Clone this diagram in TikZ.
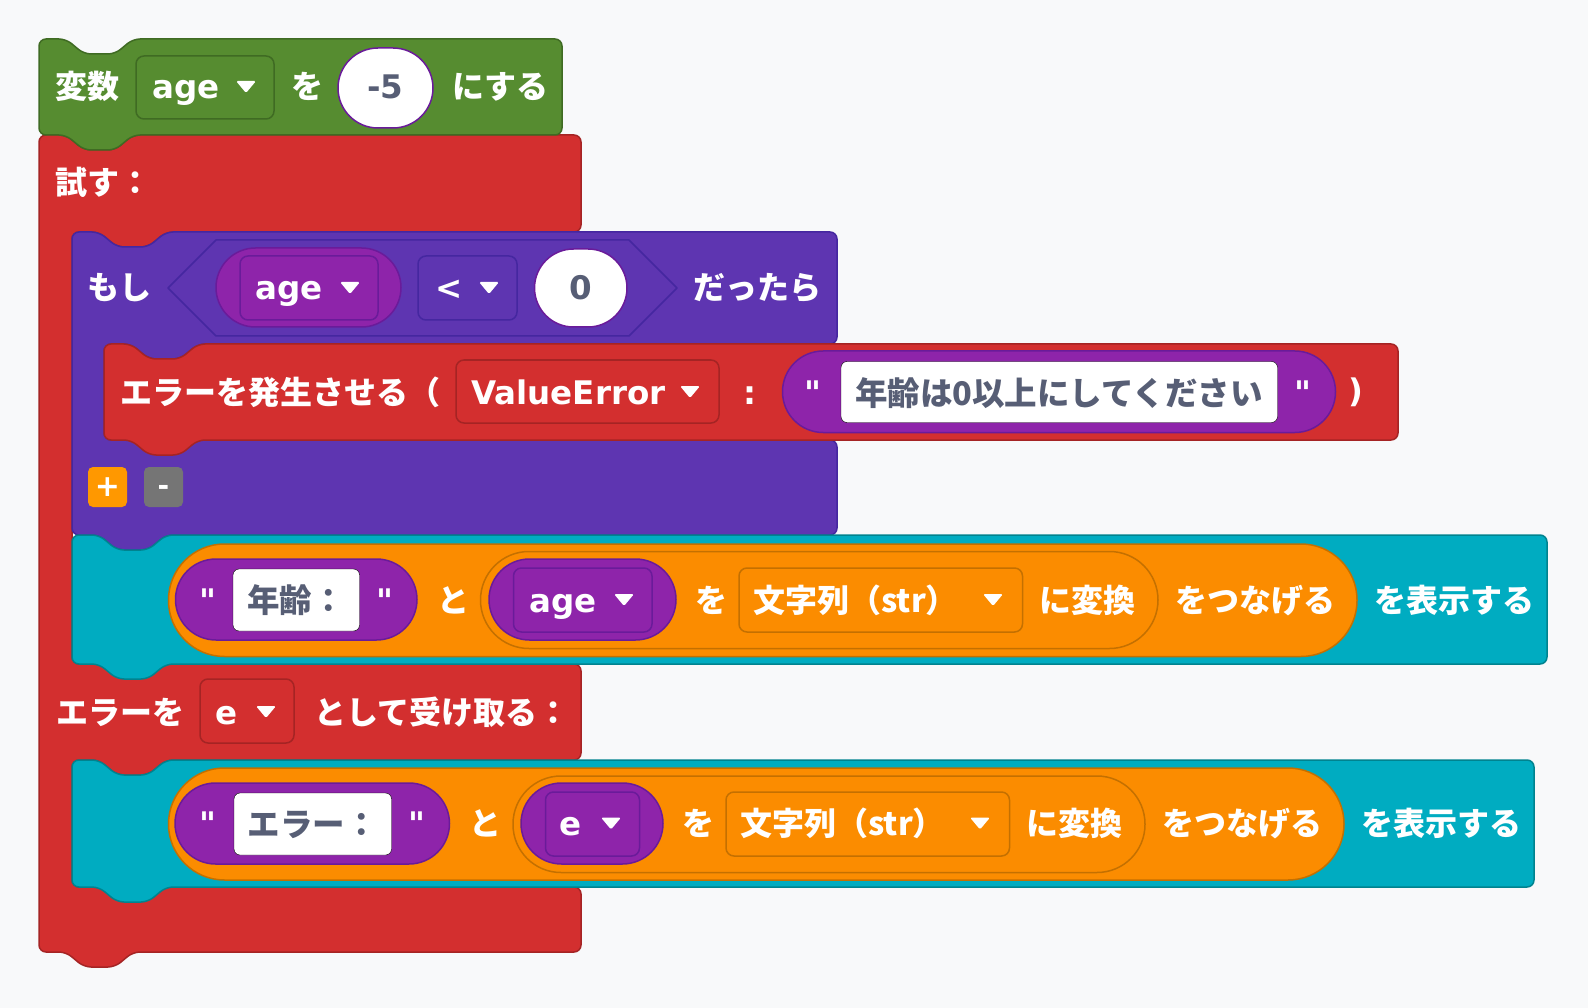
\documentclass[tikz,border=0pt]{standalone}
\usepackage{fontspec}
\setmainfont{DejaVu Sans}
\newfontfamily\lat{DejaVu Sans}
\newfontfamily\jp{Noto Sans CJK JP}
\definecolor{cBg}{HTML}{F8F9FA}
\definecolor{cGreen}{HTML}{568C30}
\definecolor{cGreenD}{HTML}{3F6B23}
\definecolor{cRed}{HTML}{D32F2F}
\definecolor{cRedD}{HTML}{A52424}
\definecolor{cPur}{HTML}{5E35B1}
\definecolor{cPurD}{HTML}{4527A0}
\definecolor{cMag}{HTML}{8E24AA}
\definecolor{cMagD}{HTML}{6A1B9A}
\definecolor{cTeal}{HTML}{00ACC1}
\definecolor{cTealD}{HTML}{00838F}
\definecolor{cOr}{HTML}{FB8C00}
\definecolor{cOrD}{HTML}{C47000}
\definecolor{cPlus}{HTML}{FF9800}
\definecolor{cMinus}{HTML}{757575}
\definecolor{cGray}{HTML}{575E75}
\newcommand\tri[2]{\fill[white,rounded corners=1.5pt] ({#1-10},{#2-6}) -- ({#1+10},{#2-6}) -- ({#1},{#2+6}) -- cycle;}
\begin{document}
\begin{tikzpicture}[x=1pt,y=-1pt,
  blk/.style={line width=1.5pt,rounded corners=7pt,line join=round},
  dd/.style={line width=1.5pt,rounded corners=8pt},
  pl/.style={line width=1.5pt},
  wf/.style={fill=white,rounded corners=6pt},
  jt/.style={anchor=base west,inner sep=0pt,text=white,font=\jp\bfseries\fontsize{32}{32}\selectfont},
  lt/.style={anchor=base west,inner sep=0pt,text=white,font=\lat\bfseries\fontsize{32.5}{33}\selectfont},
  lc/.style={anchor=base,inner sep=0pt,text=white,font=\lat\bfseries\fontsize{32.5}{33}\selectfont},
  fc/.style={anchor=base,inner sep=0pt,text=cGray,font=\jp\bfseries\fontsize{32.5}{33}\selectfont}]
\useasboundingbox (0,0) rectangle (1588,1008);
\fill[cBg] (0,0) rectangle (1588,1008);

% ---------- try block (red C) ----------
\draw[blk,fill=cRed,draw=cRedD] (39,500) -- (39,135) -- (66,135) -- (84,150) -- (115,150) -- (133,135) -- (581,135) -- (581,232)
  -- (166,232) -- (148,247) -- (117,247) -- (99,232) -- (72,232) -- (72,664) -- (581,664) -- (581,760)
  -- (166,760) -- (148,775) -- (117,775) -- (99,760) -- (72,760) -- (72,887) -- (581,887) -- (581,952)
  -- (133,952) -- (115,967) -- (84,967) -- (66,952) -- (39,952) -- cycle;

% ---------- set variable (green) ----------
\draw[blk,fill=cGreen,draw=cGreenD] (39,90) -- (39,39) -- (66,39) -- (84,54) -- (115,54) -- (133,39) -- (562,39) -- (562,135)
  -- (133,135) -- (115,150) -- (84,150) -- (66,135) -- (39,135) -- cycle;
\node[jt] (g1) at (55,99) {変数};
\draw[dd,fill=cGreen,draw=cGreenD] (136,56) rectangle (274,119);
\node[lt] (g2) at (152,99) {age};
\tri{246}{87}
\node[jt] (g3) at (291,99) {を};
\draw[pl,fill=white,draw=cMagD,rounded corners=40pt] (338,48) rectangle (433,128);
\node[lc,text=cGray] (g4) at (385.5,99) {-5};
\node[jt] (g5) at (452,99) {にする};

\node[jt] (t1) at (55,195) {試す：};

% ---------- if block (purple C) ----------
\draw[blk,fill=cPur,draw=cPurD] (72,400) -- (72,232) -- (99,232) -- (117,247) -- (148,247) -- (166,232) -- (837,232) -- (837,344)
  -- (198,344) -- (180,359) -- (149,359) -- (131,344) -- (104,344) -- (104,440) -- (837,440) -- (837,535)
  -- (166,535) -- (148,550) -- (117,550) -- (99,535) -- (72,535) -- cycle;
\node[jt] (i1) at (87,300) {もし};
\draw[line width=1.5pt,fill=cPur,draw=cPurD,line join=round] (168,288) -- (216,240) -- (629,240) -- (677,288) -- (629,336) -- (216,336) -- cycle;
\draw[pl,fill=cMag,draw=cMagD,rounded corners=39.5pt] (216,248) rectangle (401,327);
\draw[dd,fill=cMag,draw=cMagD] (240,256) rectangle (378,320);
\node[lt] (i2) at (255,300) {age};
\tri{350}{288}
\draw[dd,fill=cPur,draw=cPurD] (418,256) rectangle (517,320);
\node[lt] (i3) at (435,300) {<};
\tri{489}{288}
\draw[pl,fill=white,draw=cMagD,rounded corners=39pt] (534.5,249) rectangle (627,327);
\node[lc,text=cGray] (i4) at (581,300) {0};
\node[jt] (i5) at (693,300) {だったら};

% ---------- raise block (red) ----------
\draw[blk,fill=cRed,draw=cRedD] (104,392) -- (104,344) -- (131,344) -- (149,359) -- (180,359) -- (198,344) -- (1398,344) -- (1398,440)
  -- (198,440) -- (180,455) -- (149,455) -- (131,440) -- (104,440) -- cycle;
\node[jt] (r1) at (120,404) {エラーを発生させる（};
\draw[dd,fill=cRed,draw=cRedD] (456,360) rectangle (719,423);
\node[lt] (r2) at (471,404) {ValueError};
\tri{690}{392}
\node[lc] (r3) at (750,404) {:};
\draw[pl,fill=cMag,draw=cMagD,rounded corners=40.7pt] (782.5,351) rectangle (1335.5,432.5);
\node[lc] (r4) at (813,404) {"};
\draw[wf] (841,361.5) rectangle (1277.5,422.5);
\node[fc] (r5) at (1059,405) {年齢は0以上にしてください};
\node[lc] (r6) at (1303,404) {"};
\node[lc] (r7) at (1356,402) {)};

% plus / minus
\fill[cPlus,rounded corners=5pt] (88,467) rectangle (127,507);
\node[anchor=center,inner sep=0pt,text=white,font=\lat\bfseries\fontsize{30}{30}\selectfont] (p1) at (107.5,487) {+};
\fill[cMinus,rounded corners=5pt] (144,467) rectangle (183,507);
\node[anchor=base,inner sep=0pt,text=white,font=\lat\bfseries\fontsize{28}{28}\selectfont] (p2) at (163.5,495) {-};

% ---------- print block 1 (teal) ----------
\draw[blk,fill=cTeal,draw=cTealD] (72,600) -- (72,535) -- (99,535) -- (117,550) -- (148,550) -- (166,535) -- (1547,535) -- (1547,664)
  -- (166,664) -- (148,679) -- (117,679) -- (99,664) -- (72,664) -- cycle;
\draw[pl,fill=cOr,draw=cOrD,rounded corners=56pt] (168.5,544) rectangle (1357,656.5);
\draw[pl,fill=cMag,draw=cMagD,rounded corners=40.5pt] (175.5,559) rectangle (417,640);
\node[lc] (a1) at (208,612) {"};
\draw[wf] (233,569) rectangle (359.5,631);
\node[fc] (a2) at (296,612.5) {年齢：};
\node[lc] (a3) at (385,612) {"};
\node[jt] (a4) at (437,612) {と};
\draw[pl,fill=cOr,draw=cOrD,rounded corners=48.5pt] (480.5,551.5) rectangle (1158,648.5);
\draw[pl,fill=cMag,draw=cMagD,rounded corners=40.5pt] (489,559) rectangle (676,640);
\draw[dd,fill=cMag,draw=cMagD] (513.5,568) rectangle (652,632);
\node[lt] (a5) at (529,612) {age};
\tri{624}{600}
\node[jt] (a6) at (695,612) {を};
\draw[dd,fill=cOr,draw=cOrD] (739,568) rectangle (1022.5,632);
\node[jt] (a7) at (753,612) {文字列（str）};
\tri{993}{600}
\node[jt] (a8) at (1039,612) {に変換};
\node[jt] (a9) at (1175,612) {をつなげる};
\node[jt] (a10) at (1374,612) {を表示する};

% ---------- catch row ----------
\node[jt] (c1) at (56,724) {エラーを};
\draw[dd,fill=cRed,draw=cRedD] (200,679) rectangle (294,743);
\node[lt] (c2) at (215,724) {e};
\tri{266}{712}
\node[jt] (c3) at (314,724) {として受け取る：};

% ---------- print block 2 (teal) ----------
\draw[blk,fill=cTeal,draw=cTealD] (72,820) -- (72,760) -- (99,760) -- (117,775) -- (148,775) -- (166,760) -- (1534,760) -- (1534,887)
  -- (166,887) -- (148,902) -- (117,902) -- (99,887) -- (72,887) -- cycle;
\draw[pl,fill=cOr,draw=cOrD,rounded corners=56pt] (168.5,768) rectangle (1344,880);
\draw[pl,fill=cMag,draw=cMagD,rounded corners=40.5pt] (175,783) rectangle (449.5,864);
\node[lc] (b1) at (208,835.5) {"};
\draw[wf] (234,793) rectangle (391.5,855);
\node[fc] (b2) at (312.7,836) {エラー：};
\node[lc] (b3) at (417,835.5) {"};
\node[jt] (b4) at (469,835.5) {と};
\draw[pl,fill=cOr,draw=cOrD,rounded corners=48pt] (513,776) rectangle (1145,872.5);
\draw[pl,fill=cMag,draw=cMagD,rounded corners=40.5pt] (521,783) rectangle (663,864);
\draw[dd,fill=cMag,draw=cMagD] (545.5,792) rectangle (639.5,856);
\node[lt] (b5) at (559,835.5) {e};
\tri{611}{823.5}
\node[jt] (b6) at (682,835.5) {を};
\draw[dd,fill=cOr,draw=cOrD] (726,792) rectangle (1009.5,856);
\node[jt] (b7) at (740,835.5) {文字列（str）};
\tri{980}{823.5}
\node[jt] (b8) at (1026,835.5) {に変換};
\node[jt] (b9) at (1162,835.5) {をつなげる};
\node[jt] (b10) at (1361,835.5) {を表示する};
\end{tikzpicture}
\end{document}
